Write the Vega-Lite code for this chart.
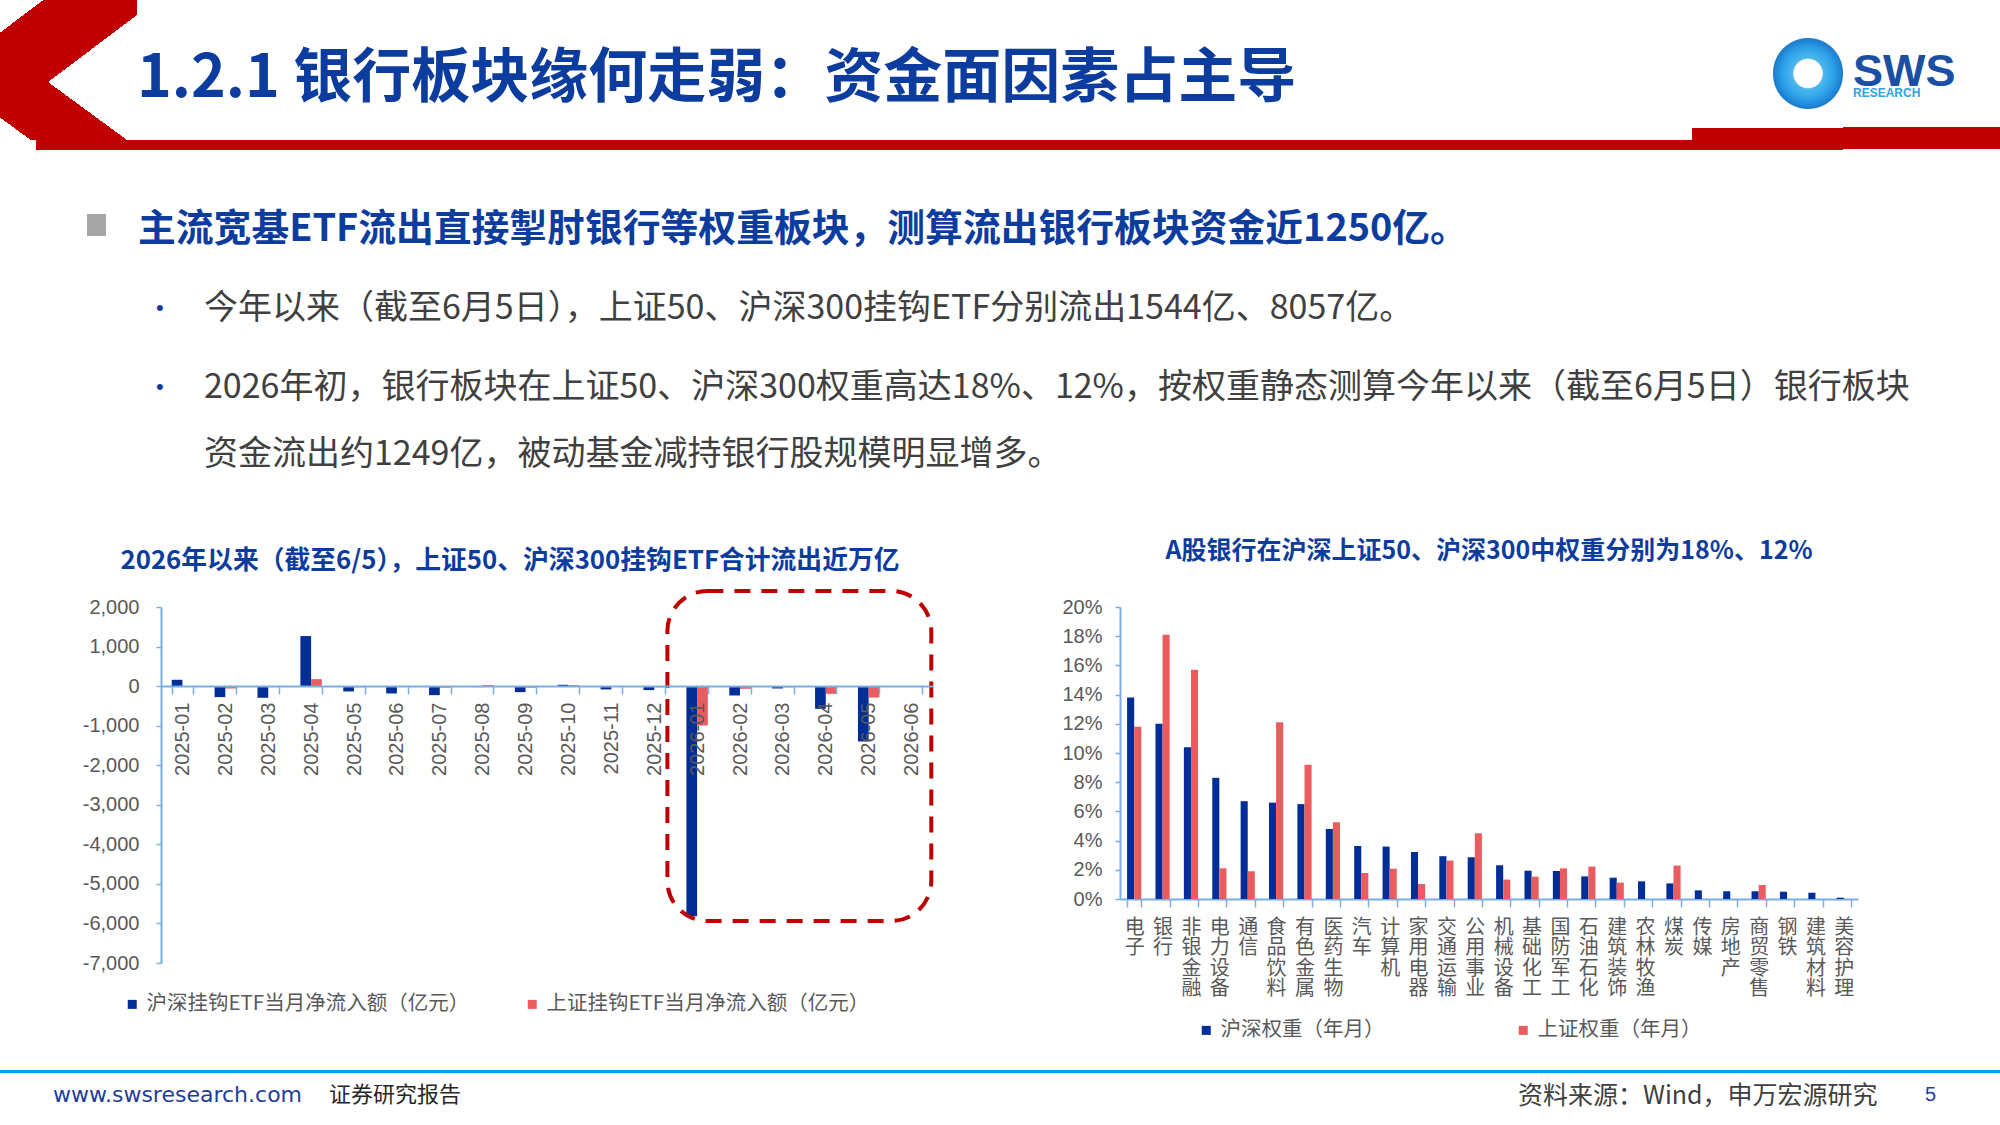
{
  "$schema": "https://vega.github.io/schema/vega-lite/v6.json",
  "background": "#ffffff",
  "padding": 0,
  "spacing": 0,
  "config": {"view": {"stroke": null}, "concat": {"spacing": 0}, "font": "Noto Sans CJK SC"},
  "datasets": {
    "empty": [],
    "box": [{"s": "2026-01", "e": "2026-06", "v": 2404, "lo": -5938}],
    "etf": [
      {"m": "2025-01", "s": "沪深", "v": 160}, {"m": "2025-01", "s": "上证", "v": -10},
      {"m": "2025-02", "s": "沪深", "v": -278}, {"m": "2025-02", "s": "上证", "v": -60},
      {"m": "2025-03", "s": "沪深", "v": -295}, {"m": "2025-03", "s": "上证", "v": -10},
      {"m": "2025-04", "s": "沪深", "v": 1265}, {"m": "2025-04", "s": "上证", "v": 177},
      {"m": "2025-05", "s": "沪深", "v": -135}, {"m": "2025-05", "s": "上证", "v": -30},
      {"m": "2025-06", "s": "沪深", "v": -186}, {"m": "2025-06", "s": "上证", "v": -12},
      {"m": "2025-07", "s": "沪深", "v": -228}, {"m": "2025-07", "s": "上证", "v": -40},
      {"m": "2025-08", "s": "沪深", "v": -25}, {"m": "2025-08", "s": "上证", "v": 30},
      {"m": "2025-09", "s": "沪深", "v": -152}, {"m": "2025-09", "s": "上证", "v": -40},
      {"m": "2025-10", "s": "沪深", "v": 34}, {"m": "2025-10", "s": "上证", "v": 25},
      {"m": "2025-11", "s": "沪深", "v": -84}, {"m": "2025-11", "s": "上证", "v": -15},
      {"m": "2025-12", "s": "沪深", "v": -101}, {"m": "2025-12", "s": "上证", "v": -30},
      {"m": "2026-01", "s": "沪深", "v": -5815}, {"m": "2026-01", "s": "上证", "v": -996},
      {"m": "2026-02", "s": "沪深", "v": -237}, {"m": "2026-02", "s": "上证", "v": -68},
      {"m": "2026-03", "s": "沪深", "v": -60}, {"m": "2026-03", "s": "上证", "v": -30},
      {"m": "2026-04", "s": "沪深", "v": -574}, {"m": "2026-04", "s": "上证", "v": -195},
      {"m": "2026-05", "s": "沪深", "v": -1400}, {"m": "2026-05", "s": "上证", "v": -288},
      {"m": "2026-06", "s": "沪深", "v": -15}, {"m": "2026-06", "s": "上证", "v": -5}
    ],
    "wt": [
      {"ind": "电子", "s": "沪深", "v": 0.138}, {"ind": "电子", "s": "上证", "v": 0.118},
      {"ind": "银行", "s": "沪深", "v": 0.120}, {"ind": "银行", "s": "上证", "v": 0.181},
      {"ind": "非银金融", "s": "沪深", "v": 0.104}, {"ind": "非银金融", "s": "上证", "v": 0.157},
      {"ind": "电力设备", "s": "沪深", "v": 0.083}, {"ind": "电力设备", "s": "上证", "v": 0.021},
      {"ind": "通信", "s": "沪深", "v": 0.067}, {"ind": "通信", "s": "上证", "v": 0.019},
      {"ind": "食品饮料", "s": "沪深", "v": 0.066}, {"ind": "食品饮料", "s": "上证", "v": 0.121},
      {"ind": "有色金属", "s": "沪深", "v": 0.065}, {"ind": "有色金属", "s": "上证", "v": 0.092},
      {"ind": "医药生物", "s": "沪深", "v": 0.048}, {"ind": "医药生物", "s": "上证", "v": 0.0526},
      {"ind": "汽车", "s": "沪深", "v": 0.0363}, {"ind": "汽车", "s": "上证", "v": 0.0178},
      {"ind": "计算机", "s": "沪深", "v": 0.0359}, {"ind": "计算机", "s": "上证", "v": 0.0208},
      {"ind": "家用电器", "s": "沪深", "v": 0.0322}, {"ind": "家用电器", "s": "上证", "v": 0.0103},
      {"ind": "交通运输", "s": "沪深", "v": 0.0293}, {"ind": "交通运输", "s": "上证", "v": 0.0263},
      {"ind": "公用事业", "s": "沪深", "v": 0.0286}, {"ind": "公用事业", "s": "上证", "v": 0.045},
      {"ind": "机械设备", "s": "沪深", "v": 0.0231}, {"ind": "机械设备", "s": "上证", "v": 0.0133},
      {"ind": "基础化工", "s": "沪深", "v": 0.0194}, {"ind": "基础化工", "s": "上证", "v": 0.0153},
      {"ind": "国防军工", "s": "沪深", "v": 0.0192}, {"ind": "国防军工", "s": "上证", "v": 0.021},
      {"ind": "石油石化", "s": "沪深", "v": 0.0155}, {"ind": "石油石化", "s": "上证", "v": 0.0222},
      {"ind": "建筑装饰", "s": "沪深", "v": 0.0146}, {"ind": "建筑装饰", "s": "上证", "v": 0.0112},
      {"ind": "农林牧渔", "s": "沪深", "v": 0.0121},
      {"ind": "煤炭", "s": "沪深", "v": 0.0107}, {"ind": "煤炭", "s": "上证", "v": 0.0229},
      {"ind": "传媒", "s": "沪深", "v": 0.0059},
      {"ind": "房地产", "s": "沪深", "v": 0.0053},
      {"ind": "商贸零售", "s": "沪深", "v": 0.0053}, {"ind": "商贸零售", "s": "上证", "v": 0.0096},
      {"ind": "钢铁", "s": "沪深", "v": 0.005},
      {"ind": "建筑材料", "s": "沪深", "v": 0.0043},
      {"ind": "美容护理", "s": "沪深", "v": 0.0009}
    ]
  },
  "vconcat": [
    {"hconcat": [
      {"vconcat": [
        {"width": 137, "height": 82, "data": {"name": "empty"}, "mark": "point", "view": {"fill": {"gradient": "linear", "x1": 0, "y1": 0, "x2": 1, "y2": 0.796, "stops": [{"offset": 0, "color": "#ffffff"}, {"offset": 0.194, "color": "#ffffff"}, {"offset": 0.194, "color": "#c00000"}, {"offset": 0.7015, "color": "#c00000"}, {"offset": 0.7015, "color": "#ffffff"}, {"offset": 1, "color": "#ffffff"}]}}},
        {"width": 137, "height": 58, "data": {"name": "empty"}, "mark": "point", "view": {"fill": {"gradient": "linear", "x1": 0, "y1": 1, "x2": 1, "y2": 0.423, "stops": [{"offset": 0, "color": "#ffffff"}, {"offset": 0.168, "color": "#ffffff"}, {"offset": 0.168, "color": "#c00000"}, {"offset": 0.6955, "color": "#c00000"}, {"offset": 0.6955, "color": "#ffffff"}, {"offset": 1, "color": "#ffffff"}]}}},
        {"width": 137, "height": 10, "data": {"name": "empty"}, "mark": "point", "view": {"fill": {"gradient": "linear", "x1": 0, "y1": 0, "x2": 1, "y2": 0, "stops": [{"offset": 0, "color": "#ffffff"}, {"offset": 0.26, "color": "#ffffff"}, {"offset": 0.26, "color": "#c00000"}, {"offset": 1, "color": "#c00000"}]}}}
      ]},
      {"vconcat": [
        {"width": 1555, "height": 50, "data": {"name": "empty"}, "mark": "point"},
        {"width": 1555, "height": 31, "data": {"name": "empty"}, "mark": "point",
         "title": {"text": "1.2.1 银行板块缘何走弱：资金面因素占主导", "anchor": "start", "frame": "group", "offset": 0, "font": "Noto Sans CJK SC", "fontSize": 59, "fontWeight": "bold", "color": "#0d3c9f"}},
        {"width": 1555, "height": 10, "data": {"name": "empty"}, "mark": "point", "view": {"fill": "#c00000"}}
      ]},
      {"vconcat": [
        {"width": 81, "height": 128, "data": {"name": "empty"}, "mark": "point"},
        {"width": 81, "height": 22, "data": {"name": "empty"}, "mark": "point", "view": {"fill": "#c00000"}}
      ]},
      {"vconcat": [
        {"width": 70, "height": 38, "data": {"name": "empty"}, "mark": "point"},
        {"width": 70, "height": 71, "data": {"name": "empty"}, "mark": "point", "view": {"cornerRadius": 35, "fill": {"gradient": "radial", "x1": 0.5, "y1": 0.5, "r1": 0, "x2": 0.5, "y2": 0.5, "r2": 0.5, "stops": [{"offset": 0, "color": "#ffffff"}, {"offset": 0.4, "color": "#ffffff"}, {"offset": 0.43, "color": "#4db8ee"}, {"offset": 0.75, "color": "#2a9ee6"}, {"offset": 1, "color": "#1a78cc"}]}}},
        {"width": 70, "height": 19, "data": {"name": "empty"}, "mark": "point"},
        {"width": 70, "height": 22, "data": {"name": "empty"}, "mark": "point", "view": {"fill": "#c00000"}}
      ]},
      {"vconcat": [
        {"width": 157, "height": 50, "data": {"name": "empty"}, "mark": "point"},
        {"width": 157, "height": 28, "data": {"name": "empty"}, "mark": "point",
         "title": {"text": "SWS", "anchor": "start", "frame": "group", "offset": 0, "dx": 10, "font": "Liberation Sans", "fontSize": 45, "fontWeight": "bold", "color": "#1a4fa3", "subtitle": "RESEARCH", "subtitleFont": "Liberation Sans", "subtitleFontSize": 12, "subtitleFontWeight": "bold", "subtitleColor": "#2aa5df", "subtitlePadding": -7}},
        {"width": 157, "height": 22, "data": {"name": "empty"}, "mark": "point", "view": {"fill": "#c00000"}}
      ]}
    ]},
    {"hconcat": [
      {"width": 87, "height": 1, "data": {"name": "empty"}, "mark": "point"},
      {"vconcat": [
        {"width": 19, "height": 64, "data": {"name": "empty"}, "mark": "point"},
        {"width": 19, "height": 22, "data": {"name": "empty"}, "mark": "point", "view": {"fill": "#a5a5a5"}}
      ]},
      {"vconcat": [
        {"width": 1894, "height": 61, "data": {"name": "empty"}, "mark": "point"},
        {"width": 1894, "height": 1, "data": {"name": "empty"}, "mark": "point",
         "title": {"text": "主流宽基ETF流出直接掣肘银行等权重板块，测算流出银行板块资金近1250亿。", "anchor": "start", "frame": "group", "offset": 0, "dx": 32, "font": "Noto Sans CJK SC", "fontSize": 37.8, "fontWeight": "bold", "color": "#0d3c9f"}}
      ]}
    ]},
    {"hconcat": [
      {"width": 156, "height": 1, "data": {"name": "empty"}, "mark": "point"},
      {"vconcat": [
        {"width": 48, "height": 47, "data": {"name": "empty"}, "mark": "point"},
        {"width": 48, "height": 1, "data": {"name": "empty"}, "mark": "point",
         "title": {"text": "•", "anchor": "start", "frame": "group", "offset": 0, "font": "Liberation Sans", "fontSize": 22, "fontWeight": "normal", "color": "#0d3c9f"}}
      ]},
      {"vconcat": [
        {"width": 1796, "height": 42, "data": {"name": "empty"}, "mark": "point"},
        {"width": 1796, "height": 1, "data": {"name": "empty"}, "mark": "point",
         "title": {"text": "今年以来（截至6月5日），上证50、沪深300挂钩ETF分别流出1544亿、8057亿。", "anchor": "start", "frame": "group", "offset": 0, "font": "Noto Sans CJK SC", "fontSize": 34, "fontWeight": "normal", "color": "#404040"}}
      ]}
    ]},
    {"hconcat": [
      {"width": 156, "height": 1, "data": {"name": "empty"}, "mark": "point"},
      {"vconcat": [
        {"width": 48, "height": 49, "data": {"name": "empty"}, "mark": "point"},
        {"width": 48, "height": 1, "data": {"name": "empty"}, "mark": "point",
         "title": {"text": "•", "anchor": "start", "frame": "group", "offset": 0, "font": "Liberation Sans", "fontSize": 22, "fontWeight": "normal", "color": "#0d3c9f"}}
      ]},
      {"vconcat": [
        {"width": 1796, "height": 44, "data": {"name": "empty"}, "mark": "point"},
        {"width": 1796, "height": 67, "data": {"name": "empty"}, "mark": "point",
         "title": {"text": ["2026年初，银行板块在上证50、沪深300权重高达18%、12%，按权重静态测算今年以来（截至6月5日）银行板块", "资金流出约1249亿，被动基金减持银行股规模明显增多。"], "lineHeight": 67, "anchor": "start", "frame": "group", "offset": 0, "font": "Noto Sans CJK SC", "fontSize": 34, "fontWeight": "normal", "color": "#404040"}}
      ]}
    ]},
    {"hconcat": [
      {"width": 80, "height": 1, "data": {"name": "empty"}, "mark": "point"},
      {
        "width": 772, "height": 356,
        "title": {"text": "2026年以来（截至6/5），上证50、沪深300挂钩ETF合计流出近万亿", "anchor": "middle", "frame": "group", "offset": 14, "dx": -37, "font": "Noto Sans CJK SC", "fontSize": 25.8, "fontWeight": "bold", "color": "#0d3c9f"},
        "encoding": {
          "y": {"field": "v", "type": "quantitative", "scale": {"domain": [-7000, 2000], "nice": false},
                "axis": {"title": null, "values": [-7000, -6000, -5000, -4000, -3000, -2000, -1000, 0, 1000, 2000], "labelExpr": "replace(format(datum.value, ','), '−', '-')", "labelOverlap": false, "labelFont": "Liberation Sans", "labelFontSize": 20, "labelColor": "#595959", "labelPadding": 17, "tickSize": 5, "tickWidth": 1.5, "tickColor": "#7aaee3", "domainColor": "#7aaee3", "domainWidth": 2, "grid": false, "minExtent": 81, "maxExtent": 81}}
        },
        "layer": [
          {
            "data": {"name": "etf"},
            "mark": {"type": "bar"},
            "encoding": {
              "x": {"field": "m", "type": "ordinal", "scale": {"paddingInner": 0.5, "paddingOuter": 0.25},
                    "axis": {"title": null, "orient": "bottom", "offset": -277, "zindex": 1, "labelAngle": -90, "labelFont": "Liberation Sans", "labelFontSize": 20, "labelColor": "#595959", "labelPadding": 8, "labelOverlap": false, "tickBand": "extent", "tickSize": 8, "tickWidth": 1.5, "tickColor": "#7aaee3", "domainColor": "#7aaee3", "domainWidth": 2, "grid": false}},
              "xOffset": {"field": "s", "type": "nominal", "sort": ["沪深", "上证"]},
              "color": {"field": "s", "type": "nominal", "sort": ["沪深", "上证"], "scale": {"domain": ["沪深", "上证"], "range": ["#002d96", "#eb5c5f"]},
                        "legend": {"orient": "none", "legendX": -39, "legendY": 387, "direction": "horizontal", "title": null, "symbolType": "square", "symbolSize": 81, "symbolStrokeWidth": 0, "labelFont": "Noto Sans CJK SC", "labelFontSize": 20.5, "labelColor": "#595959", "labelLimit": 0, "labelOffset": 4, "columnPadding": 52, "labelExpr": "datum.label + '挂钩ETF当月净流入额（亿元）'"}}
            }
          },
          {
            "data": {"name": "box"},
            "mark": {"type": "rect", "fill": "transparent", "stroke": "#c00000", "strokeWidth": 4, "strokeDash": [16, 11], "cornerRadius": 40, "xOffset": -19, "x2Offset": 9, "clip": false},
            "encoding": {
              "x": {"field": "s", "type": "ordinal", "bandPosition": 0},
              "x2": {"field": "e", "bandPosition": 1},
              "y2": {"field": "lo"}
            }
          }
        ]
      },
      {"width": 127, "height": 1, "data": {"name": "empty"}, "mark": "point"},
      {
        "width": 738, "height": 292,
        "title": {"text": "A股银行在沪深上证50、沪深300中权重分别为18%、12%", "anchor": "middle", "frame": "group", "offset": 33, "font": "Noto Sans CJK SC", "fontSize": 25, "fontWeight": "bold", "color": "#0d3c9f"},
        "data": {"name": "wt"},
        "mark": {"type": "bar"},
        "encoding": {
          "x": {"field": "ind", "type": "ordinal", "sort": null, "scale": {"paddingInner": 0.5, "paddingOuter": 0.25},
                "axis": {"title": null, "labelAngle": 0, "labelExpr": "split(datum.label, '')", "labelFont": "Noto Sans CJK SC", "labelFontSize": 20, "labelLineHeight": 20.5, "labelBaseline": "top", "labelAlign": "center", "labelColor": "#595959", "labelPadding": 10, "labelOverlap": false, "tickBand": "extent", "tickSize": 8, "tickWidth": 1.5, "tickColor": "#7aaee3", "domainColor": "#7aaee3", "domainWidth": 2, "grid": false}},
          "xOffset": {"field": "s", "type": "nominal", "sort": ["沪深", "上证"]},
          "y": {"field": "v", "type": "quantitative", "scale": {"domain": [0, 0.2], "nice": false},
                "axis": {"title": null, "values": [0, 0.02, 0.04, 0.06, 0.08, 0.1, 0.12, 0.14, 0.16, 0.18, 0.2], "format": ".0%", "labelOverlap": false, "labelFont": "Liberation Sans", "labelFontSize": 20, "labelColor": "#595959", "labelPadding": 13, "tickSize": 5, "tickWidth": 1.5, "tickColor": "#7aaee3", "domainColor": "#7aaee3", "domainWidth": 2, "grid": false, "minExtent": 58, "maxExtent": 58}},
          "color": {"field": "s", "type": "nominal", "sort": ["沪深", "上证"], "scale": {"domain": ["沪深", "上证"], "range": ["#002d96", "#eb5c5f"]},
                    "legend": {"orient": "none", "legendX": 76, "legendY": 413, "direction": "horizontal", "title": null, "symbolType": "square", "symbolSize": 81, "symbolStrokeWidth": 0, "labelFont": "Noto Sans CJK SC", "labelFontSize": 20.5, "labelColor": "#595959", "labelLimit": 0, "labelOffset": 4, "columnPadding": 128, "labelExpr": "datum.label + '权重（年月）'"}}
        }
      }
    ], "resolve": {"scale": {"color": "independent", "xOffset": "independent"}, "legend": {"color": "independent"}}},
    {"width": 2000, "height": 29, "data": {"name": "empty"}, "mark": "point"},
    {"hconcat": [
      {"width": 53, "height": 3, "data": {"name": "empty"}, "mark": "point", "view": {"fill": "#00a0e9"}},
      {"width": 276, "height": 3, "data": {"name": "empty"}, "mark": "point", "view": {"fill": "#00a0e9"},
       "title": {"text": "www.swsresearch.com", "orient": "bottom", "anchor": "start", "frame": "group", "offset": 12, "font": "DejaVu Sans", "fontSize": 22, "fontWeight": "normal", "color": "#1f3d99"}},
      {"width": 1189, "height": 3, "data": {"name": "empty"}, "mark": "point", "view": {"fill": "#00a0e9"},
       "title": {"text": "证券研究报告", "orient": "bottom", "anchor": "start", "frame": "group", "offset": 12, "font": "Noto Sans CJK SC", "fontSize": 22, "fontWeight": "normal", "color": "#262626"}},
      {"width": 407, "height": 3, "data": {"name": "empty"}, "mark": "point", "view": {"fill": "#00a0e9"},
       "title": {"text": "资料来源：Wind，申万宏源研究", "orient": "bottom", "anchor": "start", "frame": "group", "offset": 11, "font": "Noto Sans CJK SC", "fontSize": 25, "fontWeight": "normal", "color": "#404040"}},
      {"width": 75, "height": 3, "data": {"name": "empty"}, "mark": "point", "view": {"fill": "#00a0e9"},
       "title": {"text": "5", "orient": "bottom", "anchor": "start", "frame": "group", "offset": 12, "font": "Liberation Sans", "fontSize": 20, "fontWeight": "normal", "color": "#1f3d99"}}
    ]},
    {"width": 2000, "height": 8, "data": {"name": "empty"}, "mark": "point"}
  ]
}
